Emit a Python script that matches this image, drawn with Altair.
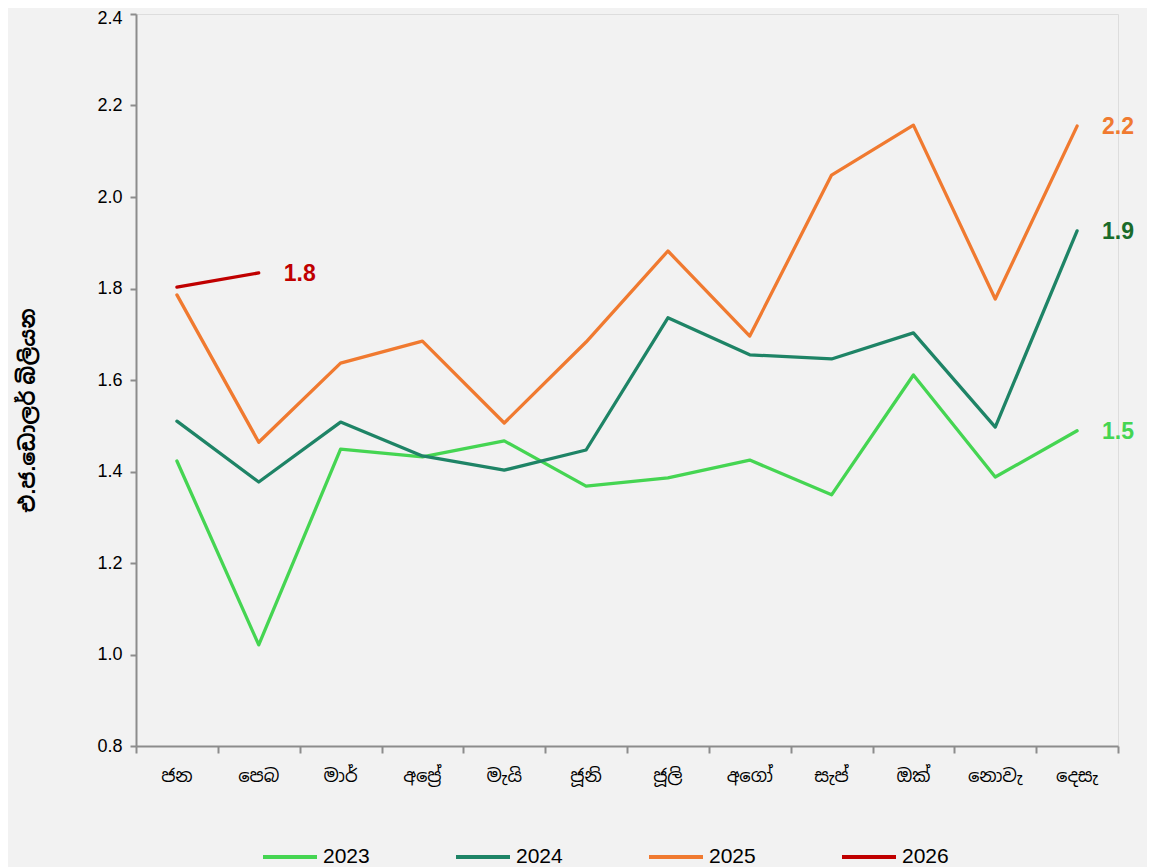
import altair as alt
import pandas as pd

months = ["ජන", "පෙබ", "මාර්", "අප්\u200dරේ", "මැයි", "ජූනි", "ජූලි", "අගෝ", "සැප්", "ඔක්", "නොවැ", "දෙසැ"]
years = ["2023", "2024", "2025", "2026"]
v2023 = [1.423, 1.021, 1.449, 1.432, 1.467, 1.368, 1.386, 1.425, 1.349, 1.611, 1.388, 1.489]
v2024 = [1.510, 1.377, 1.508, 1.434, 1.403, 1.447, 1.736, 1.655, 1.646, 1.703, 1.497, 1.926]
v2025 = [1.786, 1.464, 1.637, 1.685, 1.506, 1.683, 1.882, 1.696, 2.048, 2.157, 1.777, 2.155]
v2026 = [1.803, 1.834]
y_ticks = [0.8, 1.0, 1.2, 1.4, 1.6, 1.8, 2.0, 2.2, 2.4]
line_colors = ["#45d552", "#1e8466", "#f07a30", "#c00000"]
label_colors = ["#45d552", "#1a6b2a", "#f07a30", "#c00000"]

W, H = 982, 732
FONT = "Liberation Sans, Arial, Noto Sans Sinhala, sans-serif"

rows = []
for yr, vals, lc in zip(years, [v2023, v2024, v2025, v2026], label_colors):
    for i, v in enumerate(vals):
        rows.append({"year": yr, "pos": i + 0.5, "month": months[i], "value": v, "lcolor": lc})
df = pd.DataFrame(rows)
last = df.groupby("year").tail(1).copy()
mdf = pd.DataFrame({"pos": [i + 0.5 for i in range(len(months))], "month": months})

xscale = alt.Scale(domain=[0, 12], nice=False, zero=False)
yscale = alt.Scale(domain=[0.8, 2.4], nice=False, zero=False)

lines = alt.Chart(df).mark_line(strokeWidth=3.3, strokeCap="round", strokeJoin="round").encode(
    x=alt.X("pos:Q", scale=xscale,
            axis=alt.Axis(values=list(range(13)), labels=False, grid=False, title=None,
                          tickSize=7, tickColor="#8c8c8c", domainColor="#8c8c8c",
                          domainWidth=2, tickWidth=2)),
    y=alt.Y("value:Q", scale=yscale,
            axis=alt.Axis(values=y_ticks, format=".1f", grid=False,
                          title="එ.ජ.ඩොලර් බිලියන", titleFontSize=21, titleFontWeight="bold",
                          titleX=-108, titleY=396, titleAngle=270, titleAlign="center",
                          titleBaseline="middle", titleColor="#000000",
                          tickSize=6, tickColor="#8c8c8c", domainColor="#8c8c8c",
                          domainWidth=2, tickWidth=2, labelFontSize=18, labelPadding=8,
                          labelOffset={"condition": {"test": "datum.value > 2.3", "value": 4}, "value": 0},
                          labelColor="#000000")),
    color=alt.Color("year:N", scale=alt.Scale(domain=years, range=line_colors),
                    legend=alt.Legend(title=None, orient="none", legendX=125, legendY=814,
                                      direction="horizontal", columns=4,
                                      symbolType="stroke", symbolStrokeWidth=4,
                                      symbolSize=2916, labelFontSize=21,
                                      labelColor="#000000", columnPadding=78, labelOffset=4)),
    detail="year:N",
)

labels = alt.Chart(last).mark_text(align="left", baseline="middle", dx=25, dy=1, fontSize=23,
                                   fontWeight="bold", font=FONT).encode(
    x=alt.X("pos:Q", scale=xscale),
    y=alt.Y("value:Q", scale=yscale),
    text=alt.Text("value:Q", format=".1f"),
    color=alt.Color("lcolor:N", scale=None),
)

month_labels = alt.Chart(mdf).mark_text(baseline="middle", fontSize=18, font=FONT,
                                        color="#000000").encode(
    x=alt.X("pos:Q", scale=xscale),
    y=alt.value(H + 31),
    text="month:N",
)

chart = alt.layer(lines, labels, month_labels).properties(
    width=W, height=H,
    autosize=alt.AutoSizeParams(type="none"),
    padding={"left": 128, "top": 6, "right": 29, "bottom": 123},
    background="#f2f2f2",
).configure_view(stroke=None).configure(font=FONT)

chart.save("out.html", embed_options={"renderer": "svg", "actions": False})
